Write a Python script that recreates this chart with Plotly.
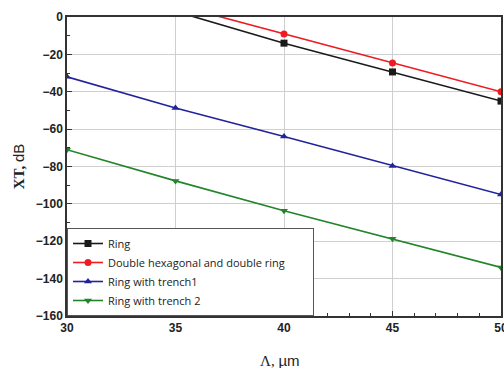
import plotly.graph_objects as go

x_um = [30, 35, 40, 45, 50]
ring = [19.0, 3.0, -14.0, -29.4, -45.0]
double_hex = [22.0, 6.5, -9.1, -24.6, -40.0]
trench1 = [-32.0, -48.7, -64.0, -79.7, -95.0]
trench2 = [-71.0, -87.7, -103.7, -118.7, -134.0]
names = ["Ring", "Double hexagonal and double ring", "Ring with trench1", "Ring with trench 2"]

series = [
    (names[0], ring, "#1a1a1a", "square"),
    (names[1], double_hex, "#ee1c22", "circle"),
    (names[2], trench1, "#22239c", "triangle-up"),
    (names[3], trench2, "#23852a", "triangle-down"),
]

fig = go.Figure()
for name, ys, col, sym in series:
    fig.add_trace(go.Scatter(
        x=x_um, y=ys, name=name + "\u00a0" * 8 if name == names[1] else name,
        mode="lines+markers",
        line=dict(color=col, width=1.6),
        marker=dict(symbol=sym, size=7, color=col),
        cliponaxis=True,
    ))

axis_common = dict(
    showline=True, linecolor="#333", linewidth=1.5, mirror=True,
    showgrid=True, gridcolor="#cfcfcf", gridwidth=1,
    ticks="inside", ticklen=5, tickcolor="#333", zeroline=False,
    tickfont=dict(family="Arial, Liberation Sans", size=12, color="#222", weight="bold"),
    ticklabeloverflow="allow", automargin=False,
)

fig.update_xaxes(
    range=[30, 50], tick0=30, dtick=5,
    minor=dict(dtick=1, ticks="inside", ticklen=3, tickcolor="#333", showgrid=False),
    **axis_common,
)
fig.update_yaxes(
    range=[-160, 0], tick0=0, dtick=20,
    minor=dict(dtick=10, ticks="inside", ticklen=3, tickcolor="#333", showgrid=False),
    title=dict(text="<b>XT,</b> <span style='font-family:Arial'>dB</span>",
               font=dict(family="Liberation Serif", size=15, color="#222"), standoff=8),
    **axis_common,
)

fig.add_annotation(
    text="Λ, <span style='font-family:Arial'>µm</span>",
    xref="paper", yref="paper", x=0.49, y=-0.15,
    xanchor="center", yanchor="middle", showarrow=False,
    font=dict(family="Liberation Serif", size=15, color="#222"),
)

fig.update_layout(
    width=504, height=368,
    margin=dict(l=67, r=3, t=17, b=52),
    paper_bgcolor="white", plot_bgcolor="white",
    showlegend=True,
    legend=dict(
        x=0, y=0, xanchor="left", yanchor="bottom",
        bgcolor="white", bordercolor="#555", borderwidth=1,
        font=dict(family="Open Sans", size=11, color="#222"),
        tracegroupgap=0, itemwidth=30,
    ),
)

fig.write_html("out.html")
